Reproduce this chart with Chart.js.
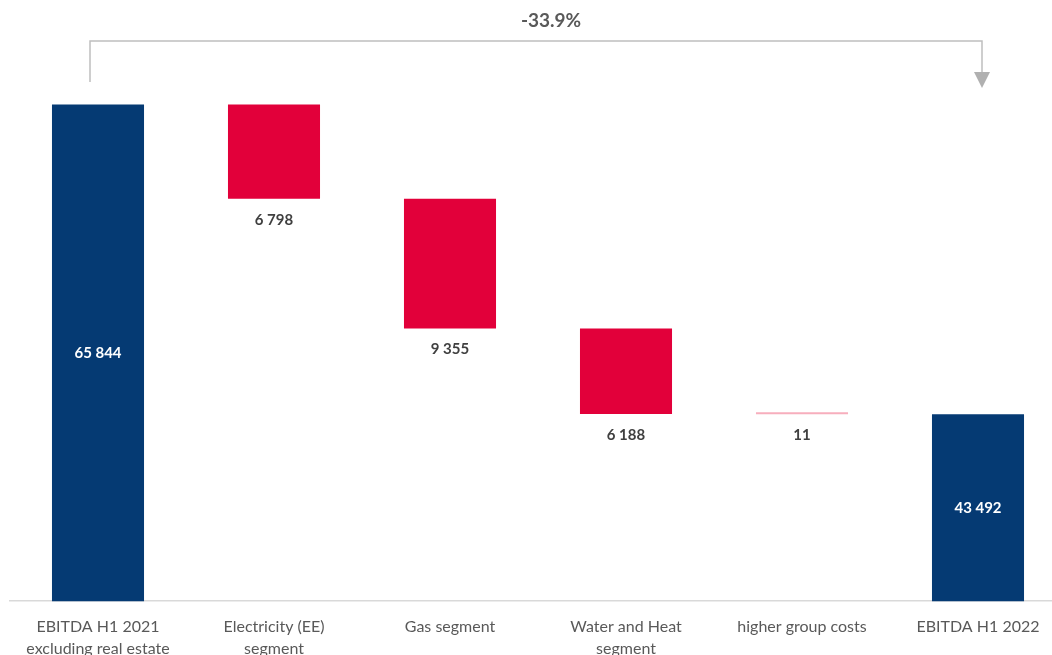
<!DOCTYPE html>
<html>
<head>
<meta charset="utf-8">
<script src="https://cdn.jsdelivr.net/npm/chart.js@4/dist/chart.umd.min.js"></script>
<style>
  html, body { margin: 0; padding: 0; background: #fff; overflow: hidden; }
  #wrap { width: 1066px; height: 674px; }
</style>
</head>
<body>
<div id="wrap"><canvas id="myChart" width="1066" height="674"></canvas></div>
<script>
// data
var categories = [
    ['EBITDA H1 2021', 'excluding real estate'],
    ['Electricity (EE)', 'segment'],
    'Gas segment',
    ['Water and Heat', 'segment'],
    'higher group costs',
    'EBITDA H1 2022'
];
var startValue = 65844;
var changes = [-6798, -9355, -6188, -11];
var endValue = 43492;
var changeLabel = '-33.9%';

var blue = '#053a73';
var red = '#e2003a';

// build floating bars for the waterfall
var barData = [startValue];
var running = startValue;
changes.forEach(function (c) {
    var next = running + c;
    barData.push([next, running]);
    running = next;
});
barData.push(endValue);

var labelTexts = [startValue].concat(changes.map(Math.abs)).concat([endValue]);

function fmt(v) {
    return String(v).replace(/\B(?=(\d{3})+(?!\d))/g, ' ');
}

var waterfallLabels = {
    id: 'waterfallLabels',
    afterDatasetsDraw: function (chart) {
        var ctx = chart.ctx;
        var meta = chart.getDatasetMeta(0);
        var bottomPx = chart.chartArea.bottom;
        ctx.save();
        ctx.textAlign = 'center';
        ctx.textBaseline = 'middle';
        ctx.font = 'bold 15px Lato';
        meta.data.forEach(function (bar, i) {
            var txt = fmt(labelTexts[i]);
            if (i === 0 || i === meta.data.length - 1) {
                ctx.fillStyle = '#ffffff';
                ctx.fillText(txt, bar.x, (bar.y + Math.min(bar.base, bottomPx)) / 2);
            } else {
                ctx.fillStyle = '#404040';
                var bottom = Math.max(bar.y, bar.base);
                ctx.fillText(txt, bar.x, bottom + 21);
            }
        });

        // bracket with arrow from first to last bar
        var x1 = meta.data[0].x - 8;
        var x2 = meta.data[meta.data.length - 1].x + 4;
        var yTop = 41;
        ctx.strokeStyle = '#bfbfbf';
        ctx.lineWidth = 1.5;
        ctx.beginPath();
        ctx.moveTo(x1, 82);
        ctx.lineTo(x1, yTop);
        ctx.lineTo(x2, yTop);
        ctx.lineTo(x2, 74);
        ctx.stroke();
        ctx.fillStyle = '#b0b0b0';
        ctx.beginPath();
        ctx.moveTo(x2 - 8, 72);
        ctx.lineTo(x2 + 8, 72);
        ctx.lineTo(x2, 88);
        ctx.closePath();
        ctx.fill();

        ctx.fillStyle = '#595959';
        ctx.font = 'bold 19px Lato';
        ctx.fillText(changeLabel, (x1 + x2) / 2 + 15, 21);
        ctx.restore();
    }
};

var ctx = document.getElementById('myChart').getContext('2d');
var myChart = new Chart(ctx, {
    type: 'bar',
    data: {
        labels: categories,
        datasets: [{
            data: barData,
            backgroundColor: function (c) {
                var i = c.dataIndex;
                if (i === 0 || i === barData.length - 1) return blue;
                return Math.abs(changes[i - 1]) < 100 ? '#f7aebd' : red;
            },
            minBarLength: 2,
            barPercentage: 0.523,
            categoryPercentage: 1
        }]
    },
    options: {
        responsive: false,
        animation: false,
        layout: { padding: { left: 10, right: 0, top: 47, bottom: 0 } },
        plugins: {
            legend: { display: false },
            tooltip: { enabled: false }
        },
        scales: {
            x: {
                grid: { display: false, drawTicks: false },
                border: { display: true, color: '#d9d9d9', width: 1.5 },
                ticks: {
                    color: '#595959',
                    font: { family: 'Lato', size: 16, lineHeight: 1.4 },
                    padding: 14,
                    maxRotation: 0,
                    autoSkip: false
                }
            },
            y: {
                display: false,
                min: 30000,
                max: 70000
            }
        }
    },
    plugins: [waterfallLabels]
});
</script>
</body>
</html>
